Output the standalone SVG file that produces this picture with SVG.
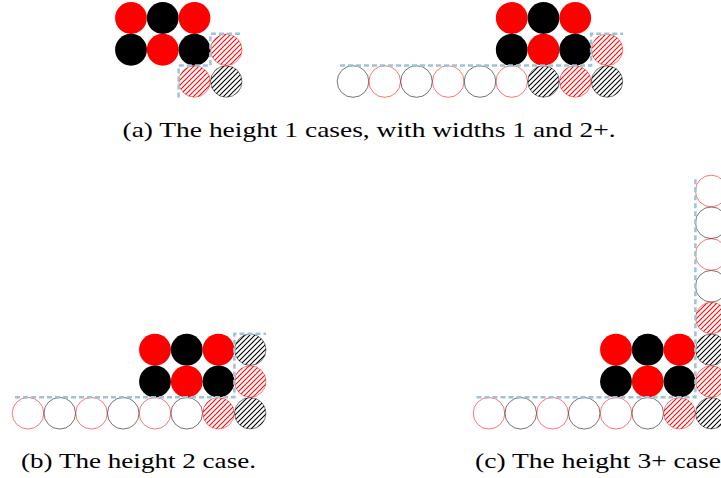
<svg xmlns="http://www.w3.org/2000/svg" width="721" height="478" viewBox="0 0 721 478">
  <defs>
    <pattern id="hatchR" patternUnits="userSpaceOnUse" width="5" height="5">
      <path d="M-1,1 L1,-1 M0,5 L5,0 M4,6 L6,4" stroke="#ff0000" stroke-width="1.1"/>
    </pattern>
    <pattern id="hatchB" patternUnits="userSpaceOnUse" width="5" height="5">
      <path d="M-1,1 L1,-1 M0,5 L5,0 M4,6 L6,4" stroke="#000000" stroke-width="1.1"/>
    </pattern>
  </defs>
  <style>
    .fr { fill: #ff0000; }
    .fb { fill: #000000; }
    .or { fill: none; stroke: #ff0000; stroke-width: 0.55; }
    .ob { fill: none; stroke: #000000; stroke-width: 0.55; }
    .hr { fill: url(#hatchR); stroke: #ff0000; stroke-width: 0.5; }
    .hb { fill: url(#hatchB); stroke: #000000; stroke-width: 0.5; }
    .dash { fill: none; stroke: #9cc4d6; stroke-width: 2.5; stroke-dasharray: 5 3; }
    .cap { font-family: "Liberation Serif", "Times New Roman", serif; font-size: 22px; fill: #000; }
  </style>

  <!-- Panel (a) left: height 1, width 1 -->
  <g id="panel-a-left">
    <circle class="fr" cx="131" cy="18" r="15.9"/>
    <circle class="fb" cx="162.75" cy="18" r="15.9"/>
    <circle class="fr" cx="194.5" cy="18" r="15.9"/>
    <circle class="fb" cx="131" cy="49.75" r="15.9"/>
    <circle class="fr" cx="162.75" cy="49.75" r="15.9"/>
    <circle class="fb" cx="194.5" cy="49.75" r="15.9"/>
    <circle class="hr" cx="226.25" cy="49.75" r="15.7"/>
    <circle class="hr" cx="194.5" cy="81.5" r="15.7"/>
    <circle class="hb" cx="226.25" cy="81.5" r="15.7"/>
  </g>

  <!-- Panel (a) right: height 1, width 2+ -->
  <g id="panel-a-right">
    <circle class="fr" cx="511.75" cy="18" r="15.9"/>
    <circle class="fb" cx="543.5" cy="18" r="15.9"/>
    <circle class="fr" cx="575.25" cy="18" r="15.9"/>
    <circle class="fb" cx="511.75" cy="49.75" r="15.9"/>
    <circle class="fr" cx="543.5" cy="49.75" r="15.9"/>
    <circle class="fb" cx="575.25" cy="49.75" r="15.9"/>
    <circle class="hr" cx="607" cy="49.75" r="15.7"/>
    <circle class="ob" cx="353" cy="81.5" r="15.8"/>
    <circle class="or" cx="384.75" cy="81.5" r="15.8"/>
    <circle class="ob" cx="416.5" cy="81.5" r="15.8"/>
    <circle class="or" cx="448.25" cy="81.5" r="15.8"/>
    <circle class="ob" cx="480" cy="81.5" r="15.8"/>
    <circle class="or" cx="511.75" cy="81.5" r="15.8"/>
    <circle class="hb" cx="543.5" cy="81.5" r="15.7"/>
    <circle class="hr" cx="575.25" cy="81.5" r="15.7"/>
    <circle class="hb" cx="607" cy="81.5" r="15.7"/>
  </g>

  <!-- Panel (b): height 2 -->
  <g id="panel-b">
    <circle class="fr" cx="155" cy="349.75" r="15.9"/>
    <circle class="fb" cx="186.75" cy="349.75" r="15.9"/>
    <circle class="fr" cx="218.5" cy="349.75" r="15.9"/>
    <circle class="hb" cx="250.25" cy="349.75" r="15.7"/>
    <circle class="fb" cx="155" cy="381.5" r="15.9"/>
    <circle class="fr" cx="186.75" cy="381.5" r="15.9"/>
    <circle class="fb" cx="218.5" cy="381.5" r="15.9"/>
    <circle class="hr" cx="250.25" cy="381.5" r="15.7"/>
    <circle class="or" cx="28" cy="413.25" r="15.8"/>
    <circle class="ob" cx="59.75" cy="413.25" r="15.8"/>
    <circle class="or" cx="91.5" cy="413.25" r="15.8"/>
    <circle class="ob" cx="123.25" cy="413.25" r="15.8"/>
    <circle class="or" cx="155" cy="413.25" r="15.8"/>
    <circle class="ob" cx="186.75" cy="413.25" r="15.8"/>
    <circle class="hr" cx="218.5" cy="413.25" r="15.7"/>
    <circle class="hb" cx="250.25" cy="413.25" r="15.7"/>
  </g>

  <!-- Panel (c): height 3+ -->
  <g id="panel-c">
    <circle class="fr" cx="616" cy="349.75" r="15.9"/>
    <circle class="fb" cx="647.75" cy="349.75" r="15.9"/>
    <circle class="fr" cx="679.5" cy="349.75" r="15.9"/>
    <circle class="hb" cx="711.25" cy="349.75" r="15.7"/>
    <circle class="fb" cx="616" cy="381.5" r="15.9"/>
    <circle class="fr" cx="647.75" cy="381.5" r="15.9"/>
    <circle class="fb" cx="679.5" cy="381.5" r="15.9"/>
    <circle class="hr" cx="711.25" cy="381.5" r="15.7"/>
    <circle class="or" cx="489" cy="413.25" r="15.8"/>
    <circle class="ob" cx="520.75" cy="413.25" r="15.8"/>
    <circle class="or" cx="552.5" cy="413.25" r="15.8"/>
    <circle class="ob" cx="584.25" cy="413.25" r="15.8"/>
    <circle class="or" cx="616" cy="413.25" r="15.8"/>
    <circle class="ob" cx="647.75" cy="413.25" r="15.8"/>
    <circle class="hr" cx="679.5" cy="413.25" r="15.7"/>
    <circle class="hb" cx="711.25" cy="413.25" r="15.7"/>
    <circle class="hr" cx="711.25" cy="318" r="15.7"/>
    <circle class="ob" cx="711.25" cy="286.25" r="15.8"/>
    <circle class="or" cx="711.25" cy="254.5" r="15.8"/>
    <circle class="ob" cx="711.25" cy="222.75" r="15.8"/>
    <circle class="or" cx="711.25" cy="191" r="15.8"/>
  </g>

  <!-- Dashed boundary lines -->
  <g id="connectors">
    <path class="dash" d="M178.6,97.4 V65.6 H210.4 V33.85 H242.2"/>
    <path class="dash" d="M340,65.6 H591.1 V33.85 H623"/>
    <path class="dash" d="M15,397.35 H234.4 V333.85 H266"/>
    <path class="dash" d="M476.5,397.35 H695.4 V176.5"/>
  </g>

  <!-- Captions -->
  <g id="captions">
    <text class="cap" x="122.5" y="137" textLength="493" lengthAdjust="spacingAndGlyphs">(a) The height 1 cases, with widths 1 and 2+.</text>
    <text class="cap" x="21" y="468" textLength="235" lengthAdjust="spacingAndGlyphs">(b) The height 2 case.</text>
    <text class="cap" x="475" y="468" textLength="246" lengthAdjust="spacingAndGlyphs">(c) The height 3+ case</text>
  </g>
</svg>
